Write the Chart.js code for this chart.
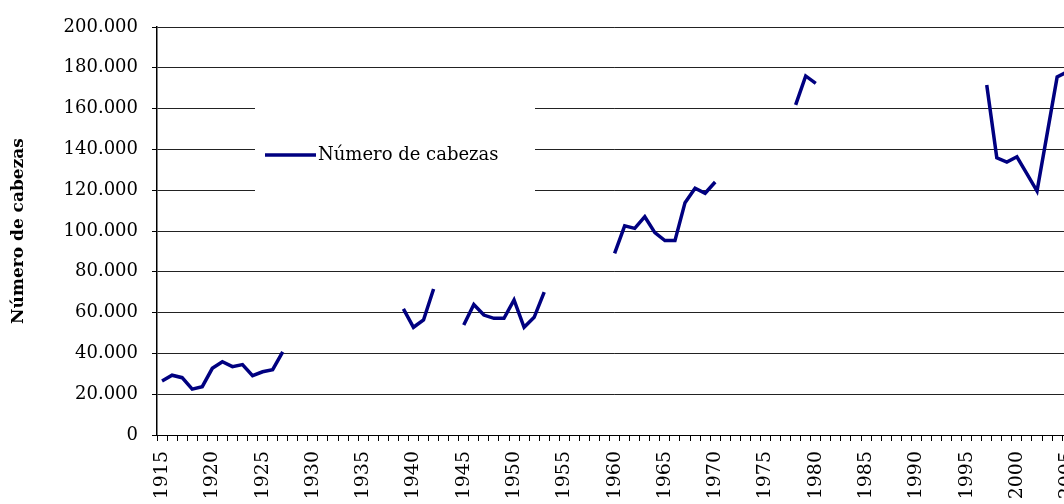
<!DOCTYPE html>
<html lang="es">
<head>
<meta charset="utf-8">
<title>Número de cabezas</title>
<script src="https://cdn.jsdelivr.net/npm/chart.js@4/dist/chart.umd.min.js"></script>
<style>
  html, body { margin: 0; padding: 0; background: #fff; overflow: hidden; width: 1064px; height: 504px; }
  #wrap { position: relative; width: 1100px; height: 504px; }
  canvas { display: block; }
</style>
</head>
<body>
<div id="wrap"><canvas id="chart" width="1100" height="504" style="width:1100px;height:504px"></canvas></div>
<script>
// years shown on the category axis
const firstYear = 1915;
const lastYear = 2005;
const years = [];
for (let y = firstYear; y <= lastYear; y++) years.push(y);

// número de cabezas per year, null where there is no data (line breaks)
const cabezas = [
    26500, 29300, 28100, 22500, 23700, 32700, 35900, 33500, 34500, 29100,   // 1915-1924
    31000, 32000, 40700, null, null, null, null, null, null, null,          // 1925-1934
    null, null, null, null, 61800, 52800, 56400, 71600, null, null,         // 1935-1944
    53900, 64000, 58800, 57200, 57200, 66200, 52800, 57700, 70000, null,    // 1945-1954
    null, null, null, null, null, 89000, 102500, 101300, 107000, 99200,     // 1955-1964
    95300, 95300, 113900, 121000, 118500, 124000, null, null, null, null,   // 1965-1974
    null, null, null, 161800, 176000, 172400, null, null, null, null,       // 1975-1984
    null, null, null, null, null, null, null, null, null, null,             // 1985-1994
    null, null, 171600, 135900, 133800, 136400, 128000, 119600, 147500, 175500, // 1995-2004
    178000                                                                  // 2005
];

const yTicks = [0, 20000, 40000, 60000, 80000, 100000, 120000, 140000, 160000, 180000, 200000];
const seriesName = 'Número de cabezas';

function fmt(v) {
    return String(v).replace(/\B(?=(\d{3})+(?!\d))/g, '.');
}

Chart.defaults.font.family = "'DejaVu Serif', serif";
Chart.defaults.color = '#000';

// legend sits inside the plot on a white box, like the original
const insideLegend = {
    id: 'insideLegend',
    beforeDatasetsDraw(chart) {
        const ctx = chart.ctx;
        const ds = chart.data.datasets[0];
        ctx.save();
        ctx.fillStyle = '#fff';
        ctx.fillRect(255, 100, 280, 100);
        ctx.strokeStyle = ds.borderColor;
        ctx.lineWidth = ds.borderWidth;
        ctx.beginPath();
        ctx.moveTo(265, 155);
        ctx.lineTo(316, 155);
        ctx.stroke();
        ctx.fillStyle = '#000';
        ctx.font = "18px 'DejaVu Serif', serif";
        ctx.textBaseline = 'middle';
        ctx.fillText(ds.label, 318, 155);
        ctx.restore();
    }
};

new Chart(document.getElementById('chart'), {
    type: 'line',
    data: {
        labels: years,
        datasets: [{
            label: seriesName,
            data: cabezas,
            borderColor: '#000080',
            borderWidth: 3.5,
            pointRadius: 0,
            tension: 0,
            spanGaps: false
        }]
    },
    options: {
        responsive: false,
        animation: false,
        events: [],
        layout: { padding: { top: 27, left: 0, right: 0, bottom: 0 } },
        plugins: {
            legend: { display: false },
            tooltip: { enabled: false }
        },
        scales: {
            x: {
                offset: true,
                grid: {
                    offset: true,
                    drawOnChartArea: false,
                    drawTicks: true,
                    tickLength: 6,
                    color: '#000',
                    tickColor: '#000'
                },
                border: { color: '#000', width: 1 },
                ticks: {
                    autoSkip: false,
                    maxRotation: 90,
                    minRotation: 90,
                    padding: 10,
                    font: { size: 19 },
                    callback: function(value, index) {
                        const y = years[index];
                        return y % 5 === 0 ? String(y) : '';
                    }
                },
                afterFit: function(scale) { scale.height = 69; }
            },
            y: {
                min: 0,
                max: 200000,
                grid: {
                    color: '#222',
                    tickColor: '#000',
                    tickLength: 5,
                    lineWidth: 1
                },
                border: { color: '#000', width: 1.5 },
                ticks: {
                    padding: 14,
                    font: { size: 18 },
                    callback: function(value) { return fmt(value); }
                },
                afterBuildTicks: function(scale) {
                    scale.ticks = yTicks.map(v => ({ value: v }));
                },
                title: {
                    display: true,
                    text: seriesName,
                    font: { size: 17, weight: 'bold' },
                    padding: { top: 8, bottom: 0 }
                },
                afterFit: function(scale) { scale.width = 157; }
            }
        }
    },
    plugins: [insideLegend]
});
</script>
</body>
</html>
